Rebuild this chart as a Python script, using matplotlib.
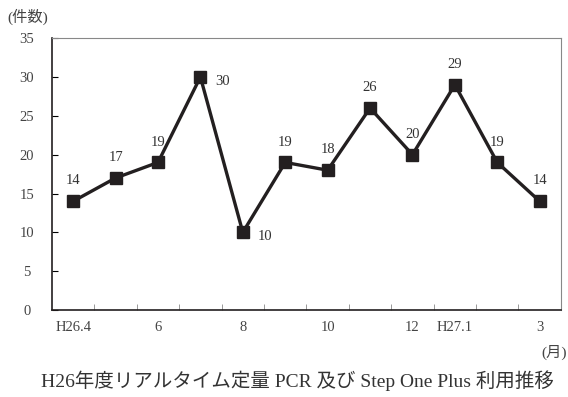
import matplotlib.pyplot as plt
from matplotlib.ticker import MultipleLocator

plt.rcParams['font.family'] = ['Liberation Serif', 'Noto Sans CJK JP']

months = ["H26.4", "5", "6", "7", "8", "9", "10", "11", "12", "H27.1", "2", "3"]
counts = [14, 17, 19, 30, 10, 19, 18, 26, 20, 29, 19, 14]
shown = ["H26.4", "6", "8", "10", "12", "H27.1", "3"]

ink = '#231f20'

fig = plt.figure(figsize=(5.68, 3.97), dpi=100)
ax = fig.add_axes([0.0915, 0.219, 0.896, 0.685])

x = range(len(months))
ax.plot(x, counts, color=ink, lw=2.4, marker='s', ms=8.5, mec=ink, mfc=ink)

# 7月と8月は値を右側に、それ以外は上に
for i, v in enumerate(counts):
    if i in (3, 4):
        ax.annotate(str(v), (i, v), xytext=(11, -3), textcoords='offset points',
                    ha='left', va='center', fontsize=10.5, color='#333333')
    else:
        ax.annotate(str(v), (i, v), xytext=(0, 10), textcoords='offset points',
                    ha='center', va='bottom', fontsize=10.5, color='#333333')

ax.set_xlim(-0.5, len(months) - 0.5)
ax.set_ylim(0, 35)
ax.yaxis.set_major_locator(MultipleLocator(5))
ax.set_xticks([months.index(m) for m in shown])
ax.set_xticklabels(shown)
ax.set_xticks([i - 0.5 for i in range(1, len(months))], minor=True)
ax.tick_params(axis='x', which='major', length=0, pad=8, labelsize=10.5, labelcolor='#444444')
ax.tick_params(axis='x', which='minor', direction='in', length=4, color='#888888')
ax.tick_params(axis='y', direction='in', length=4, pad=18, labelsize=10.5, labelcolor='#444444')
for lab in ax.get_yticklabels():
    lab.set_horizontalalignment('center')

ax.spines['left'].set_color(ink)
ax.spines['bottom'].set_color(ink)
ax.spines['left'].set_linewidth(1.2)
ax.spines['bottom'].set_linewidth(1.2)
ax.spines['top'].set_color('#888888')
ax.spines['right'].set_color('#888888')

fig.text(0.049, 0.957, '(件数)', ha='center', va='center', fontsize=11, color='#444444')
fig.text(0.998, 0.113, '(月)', ha='right', va='center', fontsize=11, color='#444444')
fig.text(0.523, 0.04, 'H26年度リアルタイム定量 PCR 及び Step One Plus 利用推移',
         ha='center', va='center', fontsize=14, color='#333333')

fig.savefig('out.png', dpi=100)
